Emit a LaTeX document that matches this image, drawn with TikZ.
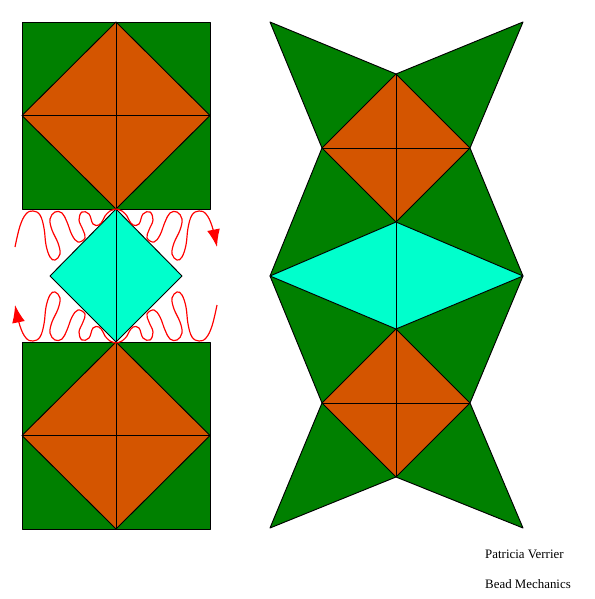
\documentclass[tikz,border=0pt]{standalone}
\usepackage{fontspec}
\setmainfont{Liberation Serif}
\usetikzlibrary{arrows.meta}

\definecolor{beadgreen}{HTML}{008000}
\definecolor{beadorange}{HTML}{D45500}
\definecolor{beadcyan}{HTML}{00FFCC}

\begin{document}
\begin{tikzpicture}[
    x=0.03cm, y=-0.03cm,
    piece/.style={draw=black, line width=0.8pt, line join=round},
    wiggle/.style={draw=red, line width=1pt},
    wiggletip/.style={-{Latex[length=15pt,width=11pt]}}
  ]
    \useasboundingbox (0,0) rectangle (594,599);

    % Define bead shapes
    \def\squareTop{(22,22) rectangle (210,209)}
    \def\squareBot{(22,342) rectangle (210,529)}
    \def\diamondTop{(116,22) -- (210,115.5) -- (116,209) -- (22,115.5) -- cycle}
    \def\diamondBot{(116,342) -- (210,435.5) -- (116,529) -- (22,435.5) -- cycle}
    \def\diamondMid{(116,209) -- (182,276) -- (116,342) -- (50,276) -- cycle}
    \def\starBody{(270,22) -- (396,74) -- (523,22) -- (470,148) -- (523,276)
      -- (470,403) -- (523,528) -- (396,477) -- (270,528) -- (322,403)
      -- (270,276) -- (322,148) -- cycle}
    \def\kiteTop{(396,74) -- (470,148) -- (396,222) -- (322,148) -- cycle}
    \def\kiteBot{(396,329) -- (470,403) -- (396,477) -- (322,403) -- cycle}
    \def\kiteMid{(396,222) -- (523,276) -- (396,329) -- (270,276) -- cycle}
    \def\wiggleHalf{plot[smooth, tension=0.65] coordinates {
      (0,-67) (-6,-65) (-11,-60) (-13,-56) (-17,-51) (-23,-52) (-27,-62)
      (-34,-64) (-37,-56) (-33,-46) (-31,-38) (-38,-34) (-44,-41) (-49,-54)
      (-54,-63) (-61,-64) (-66,-57) (-64,-46) (-58,-33) (-56,-22) (-61,-16)
      (-66,-19) (-70,-31) (-72,-48) (-76,-61) (-83,-65) (-90,-62) (-96,-50)
      (-101,-29)}}

    % Flat bead: two squares and the middle diamond
    \fill[beadgreen] \squareTop;
    \fill[beadgreen] \squareBot;
    \draw[piece] \squareTop;
    \draw[piece] \squareBot;
    \draw[piece, fill=beadorange] \diamondTop;
    \draw[piece, fill=beadorange] \diamondBot;
    \draw[piece] (22,115.5) -- (210,115.5) (116,22) -- (116,209);
    \draw[piece] (22,435.5) -- (210,435.5) (116,342) -- (116,529);
    \draw[piece, fill=beadcyan] \diamondMid;
    \draw[piece] (116,209) -- (116,342);

    % Folding motion
    \begin{scope}[shift={(116,276)}]
      \draw[wiggle] \wiggleHalf;
    \end{scope}
    \begin{scope}[shift={(116,276)}, xscale=-1]
      \draw[wiggle, wiggletip] \wiggleHalf;
    \end{scope}
    \begin{scope}[shift={(116,276)}, xscale=-1, yscale=-1]
      \draw[wiggle] \wiggleHalf;
    \end{scope}
    \begin{scope}[shift={(116,276)}, yscale=-1]
      \draw[wiggle, wiggletip] \wiggleHalf;
    \end{scope}

    % Folded bead
    \draw[piece, fill=beadgreen] \starBody;
    \draw[piece, fill=beadorange] \kiteTop;
    \draw[piece, fill=beadorange] \kiteBot;
    \draw[piece] (322,148) -- (470,148) (396,74) -- (396,222);
    \draw[piece] (322,403) -- (470,403) (396,329) -- (396,477);
    \draw[piece, fill=beadcyan] \kiteMid;
    \draw[piece] (396,222) -- (396,329);

    % Credits
    \node[anchor=base west, font=\fontsize{11}{13}\selectfont, inner sep=0pt]
      (author) at (485,558) {Patricia Verrier};
    \node[anchor=base west, font=\fontsize{11}{13}\selectfont, inner sep=0pt]
      (title) at (485,588) {Bead Mechanics};

\end{tikzpicture}
\end{document}
